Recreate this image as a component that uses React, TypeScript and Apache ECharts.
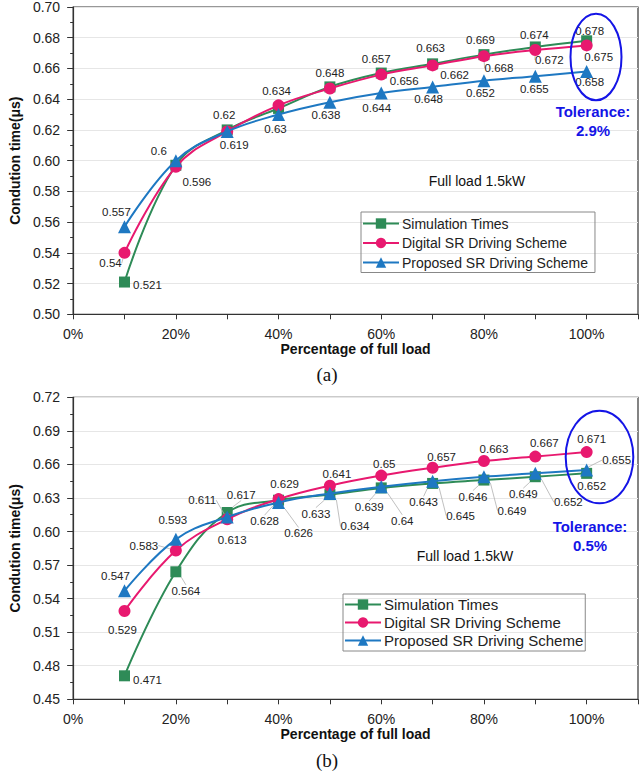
import React, { useEffect, useRef } from "react";
import * as echarts from "echarts";

// ---------- data ----------
const loadPct = [10, 20, 30, 40, 50, 60, 70, 80, 90, 100];

// chart (a)
const simA = [0.521, 0.597, 0.62, 0.634, 0.648, 0.657, 0.663, 0.669, 0.674, 0.678];
const digA = [0.54, 0.596, 0.619, 0.636, 0.647, 0.656, 0.662, 0.668, 0.672, 0.675];
const propA = [0.557, 0.6, 0.619, 0.63, 0.638, 0.644, 0.648, 0.652, 0.655, 0.658];

// chart (b)
const simB = [0.471, 0.564, 0.617, 0.628, 0.633, 0.639, 0.643, 0.646, 0.649, 0.652];
const digB = [0.529, 0.583, 0.611, 0.629, 0.641, 0.65, 0.657, 0.663, 0.667, 0.671];
const propB = [0.547, 0.593, 0.613, 0.626, 0.634, 0.64, 0.645, 0.649, 0.652, 0.655];

const seriesNames = ["Simulation Times", "Digital SR Driving Scheme", "Proposed SR Driving Scheme"];

// ---------- label placement (offsets of label centre from point, px; null = no label) ----------
type Off = [number, number] | null;
const offSimA: Off[] = [[23, 3], null, [-3, -15], [-2, -17], [0, -14], [-5, -14], [-2, -16], [-3.5, -15], [-1, -12], [3, -10]];
const offDigA: Off[] = [[-14, 10.5], [21, 15], [7, 14], null, null, [23, 6], [22, 10], [15, 12], [14, 10], [12, 11.5]];
const offPropA: Off[] = [[-8, -15], [-17, -10], null, [-3, 14], [-4, 13], [-4.5, 14.5], [-4, 12.5], [-3.5, 12], [-1, 12.5], [3, 10.5]];

const offSimB: Off[] = [[23, 4], [10, 19], [14, -18], [-14, 21], [-14, 19], [-12, 19], [-9, 19], [-11, 16.5], [-12, 17.5], [5, 13]];
const offDigB: Off[] = [[-2, 19], [-32, -5], [-25, -19], [6, -15], [7, -12], [3, -12], [9, -11], [10, -12], [9, -14], [5, -13]];
const offPropB: Off[] = [[-9, -15], [-3, -19], [5, 23], [20, 31], [25, 33], [21, 34], [28, 34.5], [28, 34], [33, 29], [30, -10]];

const colors = ["#2e8b57", "#e8196f", "#1e78c2"];
const symbols = ["rect", "circle", "triangle"];
const symbolSizes = [11, 12, 13];
const FONT = "Liberation Sans, Arial, sans-serif";

function makeSeries(
  k: number,
  values: number[],
  offs: Off[],
  axisIndex: number,
  guide: boolean[]
) {
  return {
    type: "line",
    name: seriesNames[k],
    xAxisIndex: axisIndex,
    yAxisIndex: axisIndex,
    smooth: 0.4,
    symbol: symbols[k],
    symbolSize: symbolSizes[k],
    color: colors[k],
    lineStyle: { width: 2, color: colors[k] },
    itemStyle: { color: colors[k] },
    data: values.map((v, i) => ({
      value: [loadPct[i], v],
      label: { show: offs[i] !== null },
      labelLine: { show: offs[i] !== null && guide[i] },
    })),
    label: {
      show: true,
      fontSize: 11.5,
      fontFamily: FONT,
      color: "#222",
      formatter: (p: any) => String(p.value[1]),
    },
    labelLine: { show: true, lineStyle: { color: "#b0b0b0", width: 0.8 } },
    labelLayout: (params: any) => {
      const o = offs[params.dataIndex];
      if (!o) return {};
      const r = params.rect;
      return {
        x: r.x + r.width / 2 + o[0],
        y: r.y + r.height / 2 + o[1],
        align: "center",
        verticalAlign: "middle",
      };
    },
    z: 2 + k,
  };
}

const noGuide = loadPct.map(() => false);
const guideDigA = [true, false, false, false, false, false, false, true, true, false];
const guideSimB = [false, true, true, true, true, true, true, true, true, false];
const guideDigB = [false, true, true, false, false, false, false, false, false, false];
const guidePropB = [false, false, false, true, true, true, true, true, true, true];

function xAxisCfg(gridIndex: number, nameGap: number) {
  return {
    type: "value",
    gridIndex,
    min: 0,
    max: 110,
    interval: 10,
    name: "Percentage of full load",
    nameLocation: "middle",
    nameGap,
    nameTextStyle: { fontFamily: FONT, fontSize: 14, fontWeight: "bold", color: "#111" },
    axisLine: { show: true, lineStyle: { color: "#333", width: 1.2 } },
    axisTick: { show: true, length: 5, lineStyle: { color: "#333" } },
    axisLabel: {
      fontFamily: FONT,
      fontSize: 14,
      color: "#222",
      margin: 13,
      formatter: (v: number) => (v % 20 === 0 && v <= 100 ? v + "%" : ""),
    },
    splitLine: { show: false },
  };
}

function yAxisCfg(gridIndex: number, min: number, max: number, interval: number) {
  return {
    type: "value",
    gridIndex,
    min,
    max,
    interval,
    name: "Condution time(μs)",
    nameLocation: "middle",
    nameGap: 45,
    nameTextStyle: { fontFamily: FONT, fontSize: 14, fontWeight: "bold", color: "#111" },
    axisLine: { show: true, lineStyle: { color: "#333", width: 1.2 } },
    axisTick: { show: true, length: 6, lineStyle: { color: "#333" } },
    minorTick: { show: true, splitNumber: 2, length: 3, lineStyle: { color: "#333" } },
    axisLabel: {
      fontFamily: FONT,
      fontSize: 14,
      color: "#222",
      margin: 13,
      formatter: (v: number) => v.toFixed(2),
    },
    splitLine: { show: true, lineStyle: { color: "#e6e6e6", width: 1 } },
  };
}

function legendCfg(left: number, top: number, gap: number, fontSize: number, padTop: number, padRight: number) {
  return {
    data: seriesNames,
    orient: "vertical",
    left,
    top,
    itemWidth: 36,
    itemHeight: 13,
    itemGap: gap,
    padding: [padTop, padRight, 3, 1],
    borderColor: "#888",
    borderWidth: 1,
    selectedMode: false,
    textStyle: { fontFamily: FONT, fontSize, color: "#222", padding: [0, 0, 0, -2] },
  };
}

function textEl(x: number, y: number, text: string, style: any) {
  return {
    type: "text",
    x,
    y,
    style: { text, textAlign: "center", textVerticalAlign: "middle", ...style },
    z: 10,
  };
}

export default function App() {
  const ref = useRef<HTMLDivElement>(null);
  useEffect(() => {
    if (!ref.current) return;
    const chart = echarts.init(ref.current, null, { renderer: "svg" });
    const tolStyle = { fontFamily: FONT, fontSize: 15, fontWeight: "bold", fill: "#1414e6" };
    const plain = { fontFamily: FONT, fontSize: 14, fill: "#111" };
    const serif = { fontFamily: "Liberation Serif, Times New Roman, serif", fontSize: 19, fill: "#111" };
    chart.setOption({
      animation: false,
      backgroundColor: "#fff",
      grid: [
        { left: 66.5, top: 6.6, width: 577, height: 307.7, show: true, borderColor: "#333", borderWidth: 1.2, backgroundColor: "transparent" },
        { left: 67, top: 397.3, width: 572, height: 302, show: true, borderColor: "#333", borderWidth: 1.2, backgroundColor: "transparent" },
      ],
      xAxis: [xAxisCfg(0, 26), xAxisCfg(1, 28)],
      yAxis: [yAxisCfg(0, 0.5, 0.7, 0.02), yAxisCfg(1, 0.45, 0.72, 0.03)],
      legend: [legendCfg(361, 212, 5.5, 14, 4.5, 7), legendCfg(343, 594, 3, 15, 3, 2)],
      series: [
        makeSeries(0, simA, offSimA, 0, noGuide),
        makeSeries(1, digA, offDigA, 0, guideDigA),
        makeSeries(2, propA, offPropA, 0, noGuide),
        makeSeries(0, simB, offSimB, 1, guideSimB),
        makeSeries(1, digB, offDigB, 1, guideDigB),
        makeSeries(2, propB, offPropB, 1, guidePropB),
      ],
      graphic: [
        { type: "ellipse", shape: { cx: 596, cy: 57, rx: 25.5, ry: 43.3 }, style: { fill: "none", stroke: "#1414e6", lineWidth: 2 }, z: 10 },
        { type: "ellipse", shape: { cx: 599.5, cy: 457, rx: 33.8, ry: 46.3 }, style: { fill: "none", stroke: "#1414e6", lineWidth: 2 }, z: 10 },
        textEl(593, 111, "Tolerance:", tolStyle),
        textEl(593, 130, "2.9%", tolStyle),
        textEl(590, 526, "Tolerance:", tolStyle),
        textEl(590, 545, "0.5%", tolStyle),
        textEl(477, 181, "Full load 1.5kW", plain),
        textEl(465, 556, "Full load 1.5kW", plain),
        textEl(327, 374, "(a)", serif),
        textEl(327, 760, "(b)", serif),
      ],
    });
    return () => chart.dispose();
  }, []);
  return (
    <div
      ref={ref}
      style={{ position: "absolute", left: 0, top: 0, width: 641, height: 776, background: "#fff" }}
    />
  );
}
